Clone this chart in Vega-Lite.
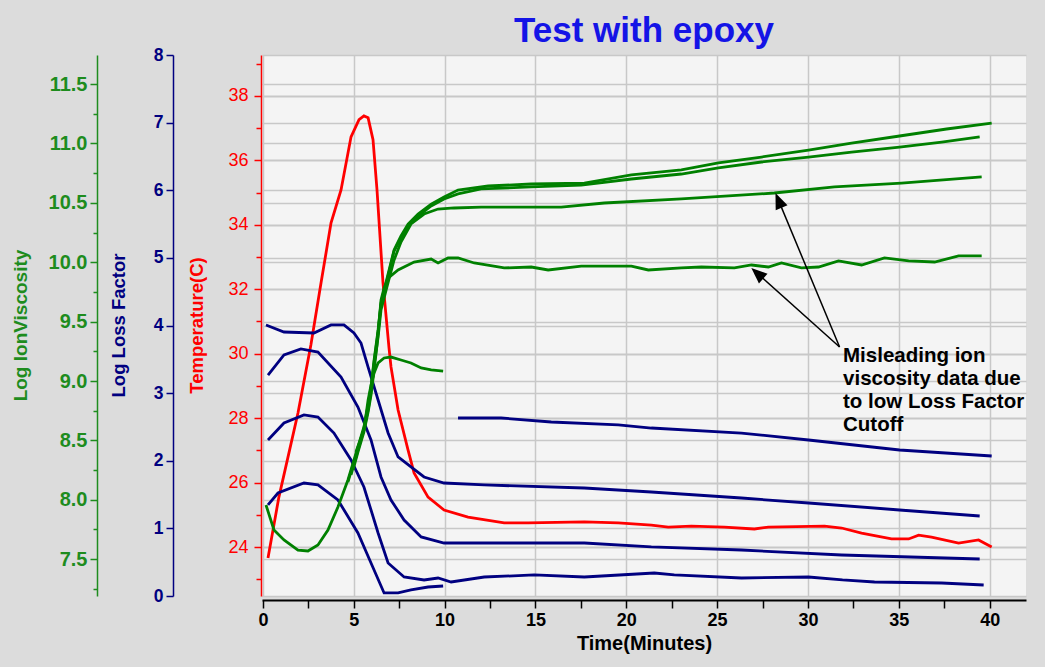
{
  "$schema": "https://vega.github.io/schema/vega-lite/v6.json",
  "width": 764,
  "height": 541,
  "autosize": "none",
  "padding": {"left": 262, "top": 55, "right": 19, "bottom": 71},
  "background": "#dcdcdc",
  "title": {"text": "Test with epoxy", "font": "Liberation Sans", "fontSize": 35, "fontWeight": "bold", "color": "#1414e6", "anchor": "middle", "frame": "group", "offset": 4, "dy": 7},
  "config": {"view": {"fill": "#f4f4f4", "stroke": null}, "font": "Liberation Sans"},
  "datasets": {
    "temperature": [
      {"t":0.28,"v":23.66},{"t":0.88,"v":25.55},{"t":1.38,"v":26.79},{"t":1.93,"v":28.16},{"t":2.64,"v":30.27},{"t":3.20,"v":32.20},{"t":3.75,"v":34.06},{"t":4.30,"v":35.08},{"t":4.85,"v":36.73},{"t":5.29,"v":37.26},{"t":5.56,"v":37.38},{"t":5.79,"v":37.32},{"t":6.06,"v":36.64},{"t":6.28,"v":35.08},{"t":6.61,"v":32.20},{"t":6.94,"v":30.18},{"t":7.05,"v":29.59},{"t":7.44,"v":28.25},{"t":7.99,"v":27.01},{"t":8.32,"v":26.30},{"t":9.09,"v":25.55},{"t":9.97,"v":25.15},{"t":11.29,"v":24.93},{"t":13.28,"v":24.75},{"t":14.60,"v":24.75},{"t":17.69,"v":24.78},{"t":19.56,"v":24.75},{"t":21.38,"v":24.68},{"t":22.31,"v":24.62},{"t":23.58,"v":24.65},{"t":25.40,"v":24.62},{"t":27.05,"v":24.56},{"t":27.82,"v":24.62},{"t":30.91,"v":24.65},{"t":31.85,"v":24.59},{"t":32.95,"v":24.43},{"t":34.60,"v":24.25},{"t":35.54,"v":24.25},{"t":36.09,"v":24.37},{"t":36.80,"v":24.31},{"t":38.29,"v":24.12},{"t":39.39,"v":24.22},{"t":40.11,"v":24.0}
    ],
    "loss": [
      {"s":"A","t":0.17,"v":4.008},{"s":"A","t":1.16,"v":3.904},{"s":"A","t":2.81,"v":3.889},{"s":"A","t":3.75,"v":4.008},{"s":"A","t":4.46,"v":4.008},{"s":"A","t":5.01,"v":3.889},{"s":"A","t":5.40,"v":3.741},{"s":"A","t":5.79,"v":3.386},{"s":"A","t":6.34,"v":2.898},{"s":"A","t":6.89,"v":2.410},{"s":"A","t":7.44,"v":2.056},{"s":"A","t":8.15,"v":1.908},{"s":"A","t":8.87,"v":1.760},{"s":"A","t":9.97,"v":1.671},{"s":"A","t":12.18,"v":1.642},{"s":"A","t":17.69,"v":1.597},{"s":"A","t":21.38,"v":1.538},{"s":"A","t":26.34,"v":1.449},{"s":"A","t":30.03,"v":1.375},{"s":"A","t":35.04,"v":1.272},{"s":"A","t":39.45,"v":1.183},
      {"s":"B","t":0.28,"v":3.268},{"s":"B","t":1.16,"v":3.564},{"s":"B","t":2.09,"v":3.653},{"s":"B","t":3.03,"v":3.608},{"s":"B","t":4.30,"v":3.239},{"s":"B","t":5.23,"v":2.795},{"s":"B","t":5.95,"v":2.307},{"s":"B","t":6.50,"v":1.760},{"s":"B","t":7.05,"v":1.420},{"s":"B","t":7.77,"v":1.124},{"s":"B","t":8.71,"v":0.873},{"s":"B","t":9.97,"v":0.784},{"s":"B","t":17.69,"v":0.784},{"s":"B","t":21.38,"v":0.725},{"s":"B","t":26.34,"v":0.680},{"s":"B","t":31.85,"v":0.606},{"s":"B","t":39.45,"v":0.547},
      {"s":"C","t":0.28,"v":2.307},{"s":"C","t":1.16,"v":2.558},{"s":"C","t":2.26,"v":2.677},{"s":"C","t":3.03,"v":2.647},{"s":"C","t":3.91,"v":2.410},{"s":"C","t":4.85,"v":2.011},{"s":"C","t":5.56,"v":1.612},{"s":"C","t":6.34,"v":0.932},{"s":"C","t":6.89,"v":0.488},{"s":"C","t":7.77,"v":0.281},{"s":"C","t":8.87,"v":0.237},{"s":"C","t":9.64,"v":0.266},{"s":"C","t":10.36,"v":0.207},{"s":"C","t":12.18,"v":0.281},{"s":"C","t":14.93,"v":0.311},{"s":"C","t":17.69,"v":0.281},{"s":"C","t":21.54,"v":0.340},{"s":"C","t":22.64,"v":0.311},{"s":"C","t":26.34,"v":0.266},{"s":"C","t":30.03,"v":0.281},{"s":"C","t":31.90,"v":0.237},{"s":"C","t":33.66,"v":0.207},{"s":"C","t":37.36,"v":0.192},{"s":"C","t":39.67,"v":0.163},
      {"s":"D","t":0.28,"v":1.346},{"s":"D","t":0.83,"v":1.523},{"s":"D","t":2.26,"v":1.671},{"s":"D","t":3.03,"v":1.642},{"s":"D","t":4.13,"v":1.420},{"s":"D","t":5.23,"v":0.932},{"s":"D","t":5.95,"v":0.488},{"s":"D","t":6.67,"v":0.045},{"s":"D","t":7.44,"v":0.045},{"s":"D","t":8.15,"v":0.089},{"s":"D","t":9.09,"v":0.133},{"s":"D","t":9.92,"v":0.148},
      {"s":"E","t":10.74,"v":2.632},{"s":"E","t":13.11,"v":2.632},{"s":"E","t":15.87,"v":2.573},{"s":"E","t":19.56,"v":2.529},{"s":"E","t":21.38,"v":2.484},{"s":"E","t":26.34,"v":2.410},{"s":"E","t":30.03,"v":2.307},{"s":"E","t":35.04,"v":2.159},{"s":"E","t":40.11,"v":2.070}
    ],
    "viscosity": [
      {"s":"G1","t":0.17,"v":7.956},{"s":"G1","t":0.61,"v":7.746},{"s":"G1","t":1.16,"v":7.662},{"s":"G1","t":1.93,"v":7.577},{"s":"G1","t":2.48,"v":7.569},{"s":"G1","t":3.03,"v":7.619},{"s":"G1","t":3.58,"v":7.746},{"s":"G1","t":4.13,"v":7.939},{"s":"G1","t":4.68,"v":8.167},{"s":"G1","t":5.23,"v":8.445},{"s":"G1","t":5.56,"v":8.613},{"s":"G1","t":5.79,"v":8.798},{"s":"G1","t":5.95,"v":8.950},{"s":"G1","t":6.12,"v":9.177},{"s":"G1","t":6.34,"v":9.430},{"s":"G1","t":6.50,"v":9.657},{"s":"G1","t":6.78,"v":9.834},{"s":"G1","t":7.22,"v":10.103},{"s":"G1","t":7.60,"v":10.221},{"s":"G1","t":7.99,"v":10.322},{"s":"G1","t":8.54,"v":10.406},{"s":"G1","t":9.26,"v":10.490},{"s":"G1","t":9.97,"v":10.549},{"s":"G1","t":10.74,"v":10.608},{"s":"G1","t":12.40,"v":10.642},{"s":"G1","t":14.77,"v":10.659},{"s":"G1","t":17.69,"v":10.667},{"s":"G1","t":20.28,"v":10.735},{"s":"G1","t":23.03,"v":10.777},{"s":"G1","t":25.07,"v":10.836},{"s":"G1","t":27.44,"v":10.886},{"s":"G1","t":30.03,"v":10.945},{"s":"G1","t":32.40,"v":11.004},{"s":"G1","t":35.04,"v":11.063},{"s":"G1","t":37.63,"v":11.122},{"s":"G1","t":40.11,"v":11.172},
      {"s":"G2","t":4.68,"v":8.150},{"s":"G2","t":5.23,"v":8.428},{"s":"G2","t":5.56,"v":8.596},{"s":"G2","t":5.79,"v":8.781},{"s":"G2","t":5.95,"v":8.933},{"s":"G2","t":6.12,"v":9.160},{"s":"G2","t":6.34,"v":9.413},{"s":"G2","t":6.50,"v":9.640},{"s":"G2","t":6.78,"v":9.817},{"s":"G2","t":7.22,"v":10.095},{"s":"G2","t":7.60,"v":10.204},{"s":"G2","t":7.99,"v":10.305},{"s":"G2","t":8.54,"v":10.389},{"s":"G2","t":9.26,"v":10.474},{"s":"G2","t":9.97,"v":10.533},{"s":"G2","t":10.74,"v":10.575},{"s":"G2","t":12.01,"v":10.617},{"s":"G2","t":14.77,"v":10.634},{"s":"G2","t":17.52,"v":10.650},{"s":"G2","t":20.28,"v":10.701},{"s":"G2","t":23.03,"v":10.743},{"s":"G2","t":25.07,"v":10.794},{"s":"G2","t":27.44,"v":10.844},{"s":"G2","t":30.03,"v":10.886},{"s":"G2","t":32.40,"v":10.928},{"s":"G2","t":35.04,"v":10.970},{"s":"G2","t":37.36,"v":11.012},{"s":"G2","t":39.45,"v":11.055},
      {"s":"G3","t":4.85,"v":8.209},{"s":"G3","t":5.23,"v":8.419},{"s":"G3","t":5.56,"v":8.588},{"s":"G3","t":5.79,"v":8.756},{"s":"G3","t":5.95,"v":8.908},{"s":"G3","t":6.12,"v":9.135},{"s":"G3","t":6.34,"v":9.371},{"s":"G3","t":6.50,"v":9.598},{"s":"G3","t":6.78,"v":9.766},{"s":"G3","t":7.22,"v":10.019},{"s":"G3","t":7.60,"v":10.171},{"s":"G3","t":8.15,"v":10.322},{"s":"G3","t":8.87,"v":10.406},{"s":"G3","t":9.64,"v":10.448},{"s":"G3","t":10.52,"v":10.457},{"s":"G3","t":12.01,"v":10.465},{"s":"G3","t":16.42,"v":10.465},{"s":"G3","t":18.79,"v":10.499},{"s":"G3","t":23.03,"v":10.533},{"s":"G3","t":28.15,"v":10.583},{"s":"G3","t":31.46,"v":10.634},{"s":"G3","t":35.15,"v":10.667},{"s":"G3","t":39.56,"v":10.718},
      {"s":"G4","t":4.96,"v":8.251},{"s":"G4","t":5.23,"v":8.402},{"s":"G4","t":5.56,"v":8.571},{"s":"G4","t":5.79,"v":8.739},{"s":"G4","t":5.95,"v":8.882},{"s":"G4","t":6.12,"v":9.093},{"s":"G4","t":6.28,"v":9.303},{"s":"G4","t":6.50,"v":9.682},{"s":"G4","t":6.67,"v":9.783},{"s":"G4","t":6.89,"v":9.867},{"s":"G4","t":7.44,"v":9.935},{"s":"G4","t":8.32,"v":10.002},{"s":"G4","t":9.26,"v":10.027},{"s":"G4","t":9.64,"v":9.994},{"s":"G4","t":10.19,"v":10.036},{"s":"G4","t":10.74,"v":10.036},{"s":"G4","t":11.63,"v":9.994},{"s":"G4","t":13.28,"v":9.952},{"s":"G4","t":14.77,"v":9.960},{"s":"G4","t":15.70,"v":9.935},{"s":"G4","t":17.52,"v":9.968},{"s":"G4","t":20.28,"v":9.968},{"s":"G4","t":21.21,"v":9.935},{"s":"G4","t":23.03,"v":9.952},{"s":"G4","t":24.13,"v":9.960},{"s":"G4","t":25.95,"v":9.952},{"s":"G4","t":26.89,"v":9.977},{"s":"G4","t":27.82,"v":9.960},{"s":"G4","t":28.54,"v":9.994},{"s":"G4","t":29.64,"v":9.952},{"s":"G4","t":30.58,"v":9.960},{"s":"G4","t":31.68,"v":10.011},{"s":"G4","t":32.95,"v":9.977},{"s":"G4","t":34.21,"v":10.036},{"s":"G4","t":35.54,"v":10.011},{"s":"G4","t":36.97,"v":10.002},{"s":"G4","t":38.29,"v":10.053},{"s":"G4","t":39.56,"v":10.053},
      {"s":"G5","t":5.12,"v":8.402},{"s":"G5","t":5.56,"v":8.588},{"s":"G5","t":5.79,"v":8.840},{"s":"G5","t":5.95,"v":8.967},{"s":"G5","t":6.12,"v":9.068},{"s":"G5","t":6.34,"v":9.152},{"s":"G5","t":6.67,"v":9.194},{"s":"G5","t":7.05,"v":9.202},{"s":"G5","t":7.60,"v":9.177},{"s":"G5","t":8.15,"v":9.152},{"s":"G5","t":8.71,"v":9.110},{"s":"G5","t":9.26,"v":9.093},{"s":"G5","t":9.92,"v":9.084}
    ],
    "arrows": [
      {"t":31.74,"v":3.682,"t2":28.38,"v2":5.850},
      {"t":31.74,"v":3.682,"t2":27.21,"v2":4.772}
    ],
    "head1": [{"t":28.38,"v":5.850}],
    "head2": [{"t":27.21,"v":4.772}],
    "note": [{"t":31.93,"v":3.46,"label":"Misleading ion\nviscosity data due\nto low Loss Factor\nCutoff"}]
  },
  "encoding": {
    "x": {
      "field": "t", "type": "quantitative", "title": "Time(Minutes)",
      "scale": {"domain": [-0.05, 42], "nice": false, "zero": false},
      "axis": {
        "values": [0,2.5,5,7.5,10,12.5,15,17.5,20,22.5,25,27.5,30,32.5,35,37.5,40],
        "format": "d",
        "labelExpr": "datum.value % 5 === 0 ? datum.label : ''",
        "offset": 4, "domainColor": "#000000", "domainWidth": 2,
        "tickColor": "#000000", "tickWidth": 1.5, "tickSize": 8,
        "labelFont": "Liberation Sans", "labelFontSize": 18, "labelFontWeight": "bold", "labelColor": "#000000",
        "labelPadding": 3, "labelFlush": false, "labelOverlap": false,
        "grid": true, "gridColor": "#c8c8c8", "gridWidth": 1.5,
        "gridOpacity": {"condition": {"test": "datum.value % 5 === 0", "value": 1}, "value": 0},
        "titleFont": "Liberation Sans", "titleFontSize": 20, "titleFontWeight": "bold", "titleColor": "#000000", "titlePadding": 4
      }
    }
  },
  "layer": [
    {
      "data": {"name": "temperature"},
      "mark": {"type": "line", "color": "#ff0000", "strokeWidth": 2.8},
      "encoding": {
        "y": {
          "field": "v", "type": "quantitative", "title": "Temperature(C)",
          "scale": {"domain": [22.48, 39.27], "nice": false, "zero": false},
          "axis": {
            "orient": "left", "offset": 1,
            "values": [23,24,25,26,27,28,29,30,31,32,33,34,35,36,37,38,39],
            "format": "d",
            "labelExpr": "datum.value % 2 === 0 ? datum.label : ''",
            "domainColor": "#ff0000", "domainWidth": 1.5, "tickColor": "#ff0000", "tickWidth": 1.5,
            "tickSize": {"condition": {"test": "datum.value % 2 === 0", "value": 7}, "value": 5},
            "labelColor": "#ff0000", "labelFont": "Liberation Sans", "labelFontSize": 18, "labelPadding": 6, "labelOverlap": false,
            "grid": true, "gridColor": "#c8c8c8", "gridWidth": 2,
            "gridOpacity": {"condition": {"test": "datum.value % 2 === 0", "value": 1}, "value": 0},
            "titleColor": "#ff0000", "titleFont": "Liberation Sans", "titleFontSize": 18.5, "titleFontWeight": "bold",
            "titleX": -65, "titleY": 270, "titleAngle": -90, "titleAlign": "center", "titleBaseline": "middle"
          }
        }
      }
    },
    {
      "data": {"name": "loss"},
      "mark": {"type": "line", "color": "#000080", "strokeWidth": 2.8},
      "encoding": {
        "detail": {"field": "s"},
        "y": {
          "field": "v", "type": "quantitative", "title": "Log Loss Factor",
          "scale": {"domain": [0, 8], "nice": false, "zero": false},
          "axis": {
            "orient": "left", "offset": 89,
            "values": [0,0.5,1,1.5,2,2.5,3,3.5,4,4.5,5,5.5,6,6.5,7,7.5,8],
            "format": "d",
            "labelExpr": "datum.value % 1 === 0 ? datum.label : ''",
            "domainColor": "#000080", "domainWidth": 1.5, "tickColor": "#000080", "tickWidth": 1.5,
            "tickSize": {"condition": {"test": "datum.value % 1 === 0", "value": 7}, "value": 5},
            "labelColor": "#000080", "labelFont": "Liberation Sans", "labelFontSize": 17.5, "labelFontWeight": "bold", "labelPadding": 3, "labelOverlap": false,
            "grid": true, "gridColor": "#c8c8c8", "gridWidth": 1.5,
            "gridOpacity": {"condition": {"test": "datum.value % 1 === 0", "value": 1}, "value": 0},
            "titleColor": "#000080", "titleFont": "Liberation Sans", "titleFontSize": 18.5, "titleFontWeight": "bold",
            "titleX": -55, "titleY": 270, "titleAngle": -90, "titleAlign": "center", "titleBaseline": "middle"
          }
        }
      }
    },
    {
      "data": {"name": "viscosity"},
      "mark": {"type": "line", "color": "#008000", "strokeWidth": 2.8},
      "encoding": {
        "detail": {"field": "s"},
        "y": {
          "field": "v", "type": "quantitative", "title": "Log IonViscosity",
          "scale": {"domain": [7.19, 11.745], "nice": false, "zero": false},
          "axis": {
            "orient": "left", "offset": 165,
            "values": [7.25,7.5,7.75,8,8.25,8.5,8.75,9,9.25,9.5,9.75,10,10.25,10.5,10.75,11,11.25,11.5],
            "format": ".1f",
            "labelExpr": "(datum.value * 2) % 1 === 0 ? datum.label : ''",
            "domainColor": "#1e8c1e", "domainWidth": 1.5, "tickColor": "#1e8c1e", "tickWidth": 1.5,
            "tickSize": {"condition": {"test": "(datum.value * 2) % 1 === 0", "value": 7}, "value": 4},
            "labelColor": "#1e8c1e", "labelFont": "Liberation Sans", "labelFontSize": 20, "labelFontWeight": "bold", "labelPadding": 3, "labelOverlap": false,
            "grid": true, "gridColor": "#c8c8c8", "gridWidth": 1.5,
            "gridOpacity": {"condition": {"test": "(datum.value * 2) % 1 === 0", "value": 1}, "value": 0},
            "titleColor": "#1e8c1e", "titleFont": "Liberation Sans", "titleFontSize": 19, "titleFontWeight": "bold",
            "titleX": -77, "titleY": 270, "titleAngle": -90, "titleAlign": "center", "titleBaseline": "middle"
          }
        }
      }
    },
    {
      "data": {"name": "arrows"},
      "mark": {"type": "rule", "color": "#000000", "strokeWidth": 1.5},
      "encoding": {
        "x2": {"field": "t2"},
        "y": {"field": "v", "type": "quantitative", "scale": {"domain": [0, 8], "nice": false, "zero": false}, "axis": null},
        "y2": {"field": "v2"}
      }
    },
    {
      "data": {"name": "head1"},
      "mark": {"type": "point", "shape": "M0,-1L-0.8,1L0.8,1Z", "size": 256, "filled": true, "color": "#000000", "opacity": 1, "angle": 337.4},
      "encoding": {
        "y": {"field": "v", "type": "quantitative", "scale": {"domain": [0, 8], "nice": false, "zero": false}, "axis": null}
      }
    },
    {
      "data": {"name": "head2"},
      "mark": {"type": "point", "shape": "M0,-1L-0.8,1L0.8,1Z", "size": 256, "filled": true, "color": "#000000", "opacity": 1, "angle": 311.9},
      "encoding": {
        "y": {"field": "v", "type": "quantitative", "scale": {"domain": [0, 8], "nice": false, "zero": false}, "axis": null}
      }
    },
    {
      "data": {"name": "note"},
      "mark": {"type": "text", "align": "left", "baseline": "alphabetic", "font": "Liberation Sans", "fontSize": 20.5, "fontWeight": "bold", "color": "#000000", "lineBreak": "\n", "lineHeight": 23},
      "encoding": {
        "y": {"field": "v", "type": "quantitative", "scale": {"domain": [0, 8], "nice": false, "zero": false}, "axis": null},
        "text": {"field": "label"}
      }
    }
  ],
  "resolve": {"scale": {"y": "independent"}, "axis": {"y": "independent"}}
}
